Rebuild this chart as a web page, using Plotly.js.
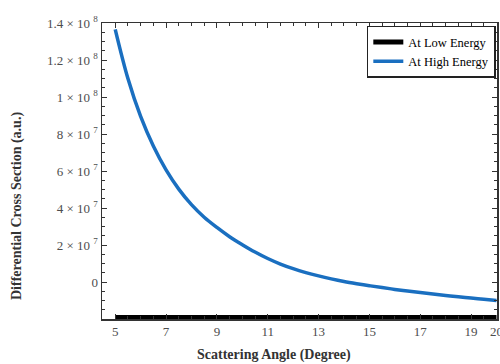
<!DOCTYPE html>
<html>
<head>
<meta charset="utf-8">
<script src="https://cdn.plot.ly/plotly-3.0.1.min.js"></script>
<style>html,body{margin:0;padding:0;background:#fff;}#chart{width:500px;height:364px;}</style>
</head>
<body>
<div id="chart"></div>
<script>
// Scattering angle (degree)
const angles = [5, 5.5, 6, 6.5, 7, 7.5, 8, 8.5, 9, 9.5, 10, 10.5, 11, 11.5, 12, 12.5, 13, 13.5, 14, 14.5, 15, 15.5, 16, 16.5, 17, 17.5, 18, 18.5, 19, 19.5, 20];
// High-energy differential cross section (a.u.)
const highEnergy = [1.366e8, 1.10e8, 8.95e7, 7.35e7, 6.06e7, 5.02e7, 4.18e7, 3.50e7, 2.95e7, 2.45e7, 2.02e7, 1.62e7, 1.27e7, 9.7e6, 7.2e6, 5.1e6, 3.3e6, 1.7e6, 3e5, -9e5, -2.0e6, -3.0e6, -4.0e6, -4.9e6, -5.7e6, -6.5e6, -7.3e6, -8.0e6, -8.7e6, -9.35e6, -1.0e7];
// Low-energy differential cross section (a.u.)
const lowEnergy = [-1.92e7, -1.92e7, -1.92e7, -1.92e7, -1.92e7, -1.92e7, -1.92e7, -1.92e7, -1.92e7, -1.92e7, -1.92e7, -1.92e7, -1.92e7, -1.92e7, -1.92e7, -1.92e7, -1.92e7, -1.92e7, -1.92e7, -1.92e7, -1.92e7, -1.92e7, -1.92e7, -1.92e7, -1.92e7, -1.92e7, -1.92e7, -1.92e7, -1.92e7, -1.92e7, -1.92e7];
// Tick labels
const yTickVals = [0, 2e7, 4e7, 6e7, 8e7, 1e8, 1.2e8, 1.4e8];
const yTickText = ['0', '2 \u00d7 10 <sup>7</sup>', '4 \u00d7 10 <sup>7</sup>', '6 \u00d7 10 <sup>7</sup>', '8 \u00d7 10 <sup>7</sup>', '1 \u00d7 10 <sup>8</sup>', '1.2 \u00d7 10 <sup>8</sup>', '1.4 \u00d7 10 <sup>8</sup>'];
const xTickVals = [5, 7, 9, 11, 13, 15, 17, 19, 20];
const xTickText = ['5', '7', '9', '11', '13', '15', '17', '19', '20'];

const serif = 'Liberation Serif, Times New Roman, serif';

const traces = [
  {x: angles, y: lowEnergy, name: 'At Low Energy', mode: 'lines',
   line: {color: '#000000', width: 5}},
  {x: angles, y: highEnergy, name: 'At High Energy', mode: 'lines',
   line: {color: '#1a6fc0', width: 3.5, shape: 'spline', smoothing: 1}}
];

const axisCommon = {
  showgrid: false, zeroline: false, showline: true, linecolor: '#333', linewidth: 1.5,
  mirror: 'ticks', ticks: 'inside', ticklen: 5, tickwidth: 1, tickcolor: '#333',
  ticklabeloverflow: 'allow',
  tickfont: {family: serif, size: 13, color: '#4d4d4d'}
};

const layout = {
  width: 500, height: 364,
  margin: {l: 102, r: 3, t: 23, b: 45},
  paper_bgcolor: '#fff', plot_bgcolor: '#fff',
  font: {family: serif},
  showlegend: true,
  legend: {x: 0.997, y: 0.99, xanchor: 'right', yanchor: 'top',
    bgcolor: '#fff', bordercolor: '#222', borderwidth: 1.5,
    font: {family: serif, size: 12.5, color: '#000'}, tracegroupgap: 0, itemwidth: 30},
  xaxis: Object.assign({}, axisCommon, {
    range: [4.48, 20.02], tickmode: 'array', tickvals: xTickVals, ticktext: xTickText,
    minor: {dtick: 0.5, tick0: 5, ticks: 'inside', ticklen: 3, tickcolor: '#333'}
  }),
  yaxis: Object.assign({}, axisCommon, {
    range: [-2e7, 1.4e8], tickmode: 'array', tickvals: yTickVals, ticktext: yTickText,
    minor: {dtick: 5e6, tick0: 0, ticks: 'inside', ticklen: 3, tickcolor: '#333'}
  }),
  annotations: [
    {text: '<b>Scattering Angle (Degree)</b>', xref: 'paper', yref: 'paper',
     x: (274 - 102) / 395, y: 0, yshift: -36, xanchor: 'center', yanchor: 'middle',
     showarrow: false, font: {family: serif, size: 14, color: '#333'}},
    {text: '<b>Differential Cross Section (a.u.)</b>', xref: 'paper', yref: 'paper',
     x: 0, xshift: -85, y: 1 - (206 - 23) / 296, xanchor: 'center', yanchor: 'middle',
     textangle: -90, showarrow: false, font: {family: serif, size: 14, color: '#333'}}
  ]
};

Plotly.newPlot('chart', traces, layout, {staticPlot: true, displayModeBar: false});
</script>
</body>
</html>
